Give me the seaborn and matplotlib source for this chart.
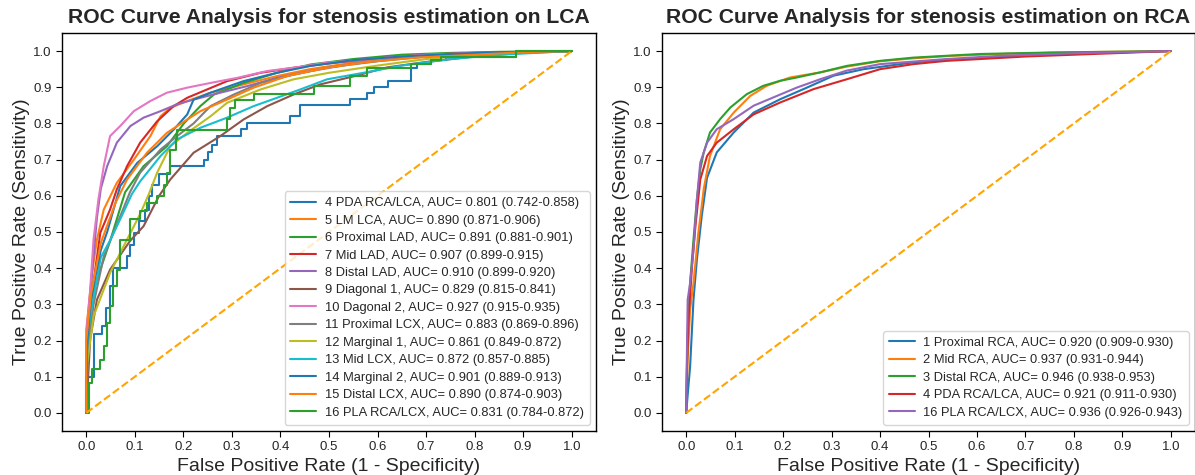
import matplotlib
matplotlib.use("Agg")
import matplotlib.pyplot as plt
import seaborn as sns

# ---------------- LCA data (FPR / TPR) ----------------
lca_labels = [
    "4 PDA RCA/LCA, AUC= 0.801 (0.742-0.858)",
    "5 LM LCA, AUC= 0.890 (0.871-0.906)",
    "6 Proximal LAD, AUC= 0.891 (0.881-0.901)",
    "7 Mid LAD, AUC= 0.907 (0.899-0.915)",
    "8 Distal LAD, AUC= 0.910 (0.899-0.920)",
    "9 Diagonal 1, AUC= 0.829 (0.815-0.841)",
    "10 Dagonal 2, AUC= 0.927 (0.915-0.935)",
    "11 Proximal LCX, AUC= 0.883 (0.869-0.896)",
    "12 Marginal 1, AUC= 0.861 (0.849-0.872)",
    "13 Mid LCX, AUC= 0.872 (0.857-0.885)",
    "14 Marginal 2, AUC= 0.901 (0.889-0.913)",
    "15 Distal LCX, AUC= 0.890 (0.874-0.903)",
    "16 PLA RCA/LCX, AUC= 0.831 (0.784-0.872)",
]

fpr_4 = [0.0, 0.0, 0.015, 0.032, 0.040, 0.049, 0.056, 0.084, 0.091, 0.098, 0.108, 0.122, 0.129,
         0.135, 0.150, 0.173, 0.242, 0.250, 0.258, 0.270, 0.318, 0.331, 0.420, 0.440, 0.544,
         0.579, 0.593, 0.621, 0.669, 0.682, 0.710, 0.740, 0.885, 1.0]
tpr_4 = [0.0, 0.10, 0.217, 0.24, 0.29, 0.35, 0.40, 0.433, 0.465, 0.498, 0.53, 0.562, 0.599,
         0.63, 0.66, 0.682, 0.70, 0.72, 0.74, 0.765, 0.785, 0.802, 0.820, 0.850, 0.867,
         0.884, 0.901, 0.918, 0.952, 0.964, 0.975, 0.985, 1.0, 1.0]

fpr_5 = [0.0, 0.0, 0.012, 0.022, 0.036, 0.063, 0.098, 0.132, 0.153, 0.173, 0.208, 0.256, 0.324,
         0.393, 0.46, 0.55, 0.65, 0.75, 0.85, 1.0]
tpr_5 = [0.0, 0.23, 0.387, 0.479, 0.562, 0.636, 0.70, 0.765, 0.82, 0.843, 0.862, 0.885, 0.908,
         0.931, 0.95, 0.968, 0.98, 0.99, 0.995, 1.0]

fpr_6 = [0.0, 0.003, 0.015, 0.05, 0.08, 0.118, 0.166, 0.201, 0.235, 0.263, 0.324, 0.393, 0.462,
         0.55, 0.65, 0.75, 0.85, 1.0]
tpr_6 = [0.0, 0.2, 0.341, 0.479, 0.61, 0.682, 0.737, 0.80, 0.848, 0.88, 0.912, 0.94, 0.963,
         0.978, 0.99, 0.995, 0.998, 1.0]

fpr_7 = [0.0, 0.003, 0.008, 0.029, 0.049, 0.063, 0.084, 0.111, 0.146, 0.18, 0.208, 0.249, 0.29,
         0.359, 0.427, 0.5, 0.6, 0.7, 0.8, 1.0]
tpr_7 = [0.0, 0.2, 0.295, 0.498, 0.562, 0.618, 0.682, 0.747, 0.806, 0.848, 0.871, 0.894, 0.917,
         0.94, 0.954, 0.966, 0.98, 0.99, 0.995, 1.0]

fpr_8 = [0.0, 0.001, 0.003, 0.015, 0.022, 0.03, 0.043, 0.063, 0.091, 0.118, 0.153, 0.187, 0.221,
         0.276, 0.331, 0.393, 0.462, 0.55, 0.65, 0.75, 0.85, 1.0]
tpr_8 = [0.0, 0.128, 0.25, 0.433, 0.54, 0.62, 0.682, 0.747, 0.793, 0.816, 0.834, 0.853, 0.866,
         0.885, 0.903, 0.926, 0.945, 0.965, 0.98, 0.99, 0.996, 1.0]

fpr_9 = [0.0, 0.008, 0.022, 0.049, 0.09, 0.118, 0.15, 0.173, 0.221, 0.276, 0.324, 0.373, 0.427,
         0.482, 0.55, 0.62, 0.7, 0.8, 0.9, 1.0]
tpr_9 = [0.0, 0.203, 0.313, 0.396, 0.475, 0.516, 0.60, 0.645, 0.719, 0.765, 0.811, 0.848, 0.88,
         0.908, 0.93, 0.955, 0.97, 0.985, 0.995, 1.0]

fpr_10 = [0.0, 0.001, 0.008, 0.015, 0.025, 0.036, 0.049, 0.07, 0.098, 0.132, 0.166, 0.208, 0.256,
          0.311, 0.373, 0.427, 0.496, 0.6, 0.7, 0.8, 1.0]
tpr_10 = [0.0, 0.23, 0.34, 0.48, 0.59, 0.682, 0.765, 0.793, 0.834, 0.862, 0.885, 0.899, 0.912,
          0.926, 0.945, 0.954, 0.968, 0.98, 0.99, 0.995, 1.0]

fpr_11 = [0.0, 0.003, 0.015, 0.036, 0.075, 0.09, 0.111, 0.153, 0.187, 0.221, 0.256, 0.304, 0.359,
          0.427, 0.5, 0.6, 0.7, 0.8, 1.0]
tpr_11 = [0.0, 0.17, 0.30, 0.433, 0.56, 0.61, 0.664, 0.728, 0.765, 0.80, 0.848, 0.88, 0.912,
          0.935, 0.955, 0.972, 0.985, 0.993, 1.0]

fpr_12 = [0.0, 0.002, 0.015, 0.049, 0.084, 0.111, 0.129, 0.146, 0.173, 0.208, 0.256, 0.29, 0.359,
          0.427, 0.5, 0.6, 0.7, 0.8, 0.9, 1.0]
tpr_12 = [0.0, 0.138, 0.267, 0.387, 0.479, 0.55, 0.605, 0.664, 0.737, 0.774, 0.82, 0.857, 0.894,
          0.922, 0.94, 0.96, 0.978, 0.99, 0.996, 1.0]

fpr_13 = [0.0, 0.002, 0.008, 0.03, 0.05, 0.075, 0.094, 0.111, 0.153, 0.187, 0.235, 0.29, 0.345,
          0.393, 0.441, 0.496, 0.571, 0.65, 0.75, 0.85, 1.0]
tpr_13 = [0.0, 0.2, 0.267, 0.43, 0.479, 0.55, 0.605, 0.64, 0.71, 0.756, 0.788, 0.816, 0.848,
          0.871, 0.894, 0.922, 0.94, 0.96, 0.978, 0.99, 1.0]

fpr_14 = [0.0, 0.002, 0.01, 0.03, 0.043, 0.07, 0.105, 0.146, 0.18, 0.208, 0.221, 0.256, 0.324,
          0.393, 0.462, 0.55, 0.65, 0.75, 0.85, 1.0]
tpr_14 = [0.0, 0.2, 0.32, 0.45, 0.50, 0.627, 0.691, 0.737, 0.783, 0.825, 0.866, 0.885, 0.917,
          0.94, 0.959, 0.975, 0.985, 0.992, 0.997, 1.0]

fpr_15 = [0.0, 0.0, 0.01, 0.03, 0.06, 0.084, 0.125, 0.166, 0.208, 0.235, 0.29, 0.345, 0.414,
          0.496, 0.58, 0.68, 0.8, 0.9, 1.0]
tpr_15 = [0.0, 0.2, 0.33, 0.47, 0.58, 0.645, 0.719, 0.774, 0.811, 0.834, 0.866, 0.899, 0.931,
          0.954, 0.97, 0.982, 0.99, 0.997, 1.0]

fpr_16 = [0.0, 0.005, 0.012, 0.029, 0.036, 0.043, 0.049, 0.056, 0.063, 0.070, 0.091, 0.111, 0.125,
          0.146, 0.160, 0.166, 0.173, 0.184, 0.187, 0.290, 0.297, 0.307, 0.345, 0.469, 0.544,
          0.579, 0.669, 0.710, 0.731, 0.886, 1.0]
tpr_16 = [0.0, 0.083, 0.12, 0.147, 0.184, 0.249, 0.295, 0.35, 0.396, 0.479, 0.535, 0.558, 0.581,
          0.60, 0.63, 0.664, 0.728, 0.756, 0.783, 0.811, 0.843, 0.866, 0.881, 0.904, 0.93,
          0.952, 0.964, 0.975, 0.985, 1.0, 1.0]

# ---------------- RCA data ----------------
rca_labels = [
    "1 Proximal RCA, AUC= 0.920 (0.909-0.930)",
    "2 Mid RCA, AUC= 0.937 (0.931-0.944)",
    "3 Distal RCA, AUC= 0.946 (0.938-0.953)",
    "4 PDA RCA/LCA, AUC= 0.921 (0.911-0.930)",
    "16 PLA RCA/LCX, AUC= 0.936 (0.926-0.943)",
]

rfpr_1 = [0.0, 0.003, 0.008, 0.015, 0.022, 0.032, 0.043, 0.063, 0.098, 0.139, 0.194, 0.249, 0.304,
          0.366, 0.469, 0.537, 0.65, 0.75, 0.85, 1.0]
rtpr_1 = [0.0, 0.05, 0.128, 0.313, 0.424, 0.544, 0.65, 0.72, 0.775, 0.83, 0.867, 0.899, 0.932,
          0.95, 0.969, 0.976, 0.985, 0.99, 0.995, 1.0]

rfpr_2 = [0.0, 0.003, 0.005, 0.008, 0.015, 0.025, 0.032, 0.036, 0.049, 0.07, 0.098, 0.132, 0.166,
          0.214, 0.276, 0.331, 0.40, 0.469, 0.55, 0.65, 0.8, 1.0]
rtpr_2 = [0.0, 0.15, 0.202, 0.285, 0.359, 0.498, 0.572, 0.618, 0.71, 0.784, 0.83, 0.876, 0.904,
          0.927, 0.941, 0.957, 0.972, 0.98, 0.987, 0.992, 0.997, 1.0]

rfpr_3 = [0.0, 0.001, 0.003, 0.008, 0.015, 0.022, 0.029, 0.036, 0.049, 0.07, 0.091, 0.125, 0.159,
          0.194, 0.228, 0.276, 0.331, 0.40, 0.469, 0.537, 0.606, 0.75, 1.0]
rtpr_3 = [0.0, 0.1, 0.22, 0.36, 0.479, 0.59, 0.673, 0.719, 0.775, 0.812, 0.844, 0.881, 0.904,
          0.918, 0.927, 0.941, 0.959, 0.973, 0.982, 0.987, 0.992, 0.996, 1.0]

rfpr_4 = [0.0, 0.002, 0.005, 0.012, 0.019, 0.029, 0.043, 0.063, 0.098, 0.139, 0.194, 0.263, 0.331,
          0.40, 0.469, 0.537, 0.606, 0.7, 0.8, 0.9, 1.0]
rtpr_4 = [0.0, 0.15, 0.267, 0.405, 0.516, 0.645, 0.71, 0.747, 0.784, 0.825, 0.858, 0.895, 0.922,
          0.95, 0.964, 0.973, 0.978, 0.985, 0.99, 0.995, 1.0]

rfpr_16 = [0.0, 0.001, 0.003, 0.008, 0.015, 0.022, 0.029, 0.043, 0.063, 0.098, 0.139, 0.187, 0.228,
           0.276, 0.331, 0.40, 0.537, 0.65, 0.8, 1.0]
rtpr_16 = [0.0, 0.128, 0.313, 0.359, 0.452, 0.59, 0.692, 0.747, 0.784, 0.812, 0.849, 0.876, 0.899,
           0.922, 0.946, 0.964, 0.978, 0.987, 0.994, 1.0]

diag = [0.0, 1.0]
ticks = [0.0, 0.1, 0.2, 0.3, 0.4, 0.5, 0.6, 0.7, 0.8, 0.9, 1.0]

# ---------------- plotting ----------------
sns.set_style("ticks")
plt.rcParams["font.family"] = ["Liberation Sans", "DejaVu Sans"]

palette = sns.color_palette("tab10")

lca_curves = [(fpr_4, tpr_4, True), (fpr_5, tpr_5, False), (fpr_6, tpr_6, False),
              (fpr_7, tpr_7, False), (fpr_8, tpr_8, False), (fpr_9, tpr_9, False),
              (fpr_10, tpr_10, False), (fpr_11, tpr_11, False), (fpr_12, tpr_12, False),
              (fpr_13, tpr_13, False), (fpr_14, tpr_14, False), (fpr_15, tpr_15, False),
              (fpr_16, tpr_16, True)]
rca_curves = [(rfpr_1, rtpr_1), (rfpr_2, rtpr_2), (rfpr_3, rtpr_3), (rfpr_4, rtpr_4),
              (rfpr_16, rtpr_16)]

fig = plt.figure(figsize=(11.95, 4.75), dpi=100)
ax1 = fig.add_axes([62 / 1195, 1 - 431 / 475, (596 - 62) / 1195, (431 - 33) / 475])
ax2 = fig.add_axes([662 / 1195, 1 - 431 / 475, (1195 - 662) / 1195, (431 - 33) / 475])

for i, ((fx, ty, step), lab) in enumerate(zip(lca_curves, lca_labels)):
    kw = {"drawstyle": "steps-post"} if step else {}
    sns.lineplot(x=fx, y=ty, ax=ax1, color=palette[i % 10], label=lab, sort=False,
                 estimator=None, linewidth=1.5, **kw)

for i, ((fx, ty), lab) in enumerate(zip(rca_curves, rca_labels)):
    sns.lineplot(x=fx, y=ty, ax=ax2, color=palette[i % 10], label=lab, sort=False,
                 estimator=None, linewidth=1.5)

for ax, region in ((ax1, "LCA"), (ax2, "RCA")):
    ax.plot(diag, diag, color="orange", linestyle="--", linewidth=1.5)
    ax.set_xlim(-0.05, 1.05)
    ax.set_ylim(-0.05, 1.05)
    ax.set_xticks(ticks)
    ax.set_yticks(ticks)
    ax.set_xticklabels([f"{t:.1f}" for t in ticks])
    ax.set_yticklabels([f"{t:.1f}" for t in ticks])
    ax.tick_params(labelsize=9.5, length=4, color="black")
    for s in ax.spines.values():
        s.set_color("black")
        s.set_linewidth(1.0)
    ax.set_xlabel("False Positive Rate (1 - Specificity)", fontsize=14, labelpad=3)
    ax.set_ylabel("True Positive Rate (Sensitivity)", fontsize=14, labelpad=2)
    ax.set_title(f"ROC Curve Analysis for stenosis estimation on {region}",
                 fontsize=15.2, fontweight="bold", pad=7)
    ax.legend(loc="lower right", fontsize=9.3, handlelength=2.0, labelspacing=0.42,
              handletextpad=0.65, borderpad=0.45)

fig.savefig("out.png", dpi=100)
